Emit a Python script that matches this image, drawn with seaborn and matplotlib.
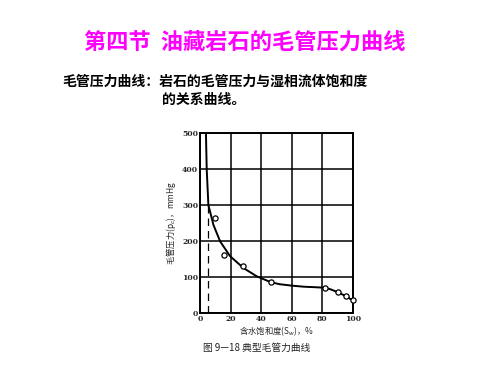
import matplotlib
matplotlib.use("Agg")
import matplotlib.pyplot as plt
import seaborn as sns

# ── Data ─────────────────────────────────────────────────────────────────────
point_sw = [9.7, 15.6, 28.3, 46.3, 82, 90.4, 95.7, 100]
point_pc = [264, 160, 131, 86, 70, 58, 48, 35]

curve_sw = [3.7, 4.2, 5.3, 8.6, 13, 19.5, 28.3, 37, 46, 52, 60, 68, 76, 82, 86, 90, 95, 100]
curve_pc = [500, 400, 300, 245, 199, 158, 125, 102, 86, 80, 76, 73, 71.5, 70, 65, 58, 48, 35]

swi_x = [5.3, 5.3]
swi_y = [0, 300]

x_ticks = [0, 20, 40, 60, 80, 100]
y_ticks = [0, 100, 200, 300, 400, 500]

TITLE = "第四节  油藏岩石的毛管压力曲线"
SUB_1 = "毛管压力曲线：岩石的毛管压力与湿相流体饱和度"
SUB_2 = "的关系曲线。"
CAPTION = "图 9—18 典型毛管力曲线"

sns.set_theme(style="white")
plt.rcParams["font.family"] = ["Noto Sans CJK SC", "DejaVu Sans"]

fig = plt.figure(figsize=(5, 3.75), dpi=100)
fig.patch.set_facecolor("white")

fig.text(245 / 500, 1 - 42 / 375, TITLE, ha="center", va="center",
         fontsize=16, fontweight="bold", color="#FF00FF")
fig.text(62 / 500, 1 - 82 / 375, SUB_1, ha="left", va="center",
         fontsize=10, fontweight="bold", color="black")
fig.text(162 / 500, 1 - 100 / 375, SUB_2, ha="left", va="center",
         fontsize=10, fontweight="bold", color="black")

ax = fig.add_axes([200.3 / 500, 1 - 313 / 375, 152.4 / 500, 180 / 375])
ax.set_facecolor("white")

sns.lineplot(x=curve_sw, y=curve_pc, ax=ax, color="black", linewidth=1.4,
             sort=False, estimator=None)
ax.plot(swi_x, swi_y, color="black", linewidth=0.9, linestyle=(0, (6, 4)))
sns.scatterplot(x=point_sw, y=point_pc, ax=ax, marker="o", s=14,
                facecolor="white", edgecolor="black", linewidth=0.9,
                zorder=5, clip_on=False)

ax.set_xlim(0, 100)
ax.set_ylim(0, 500)
ax.set_xticks(x_ticks)
ax.set_yticks(y_ticks)
ax.set_xticklabels([str(t) for t in x_ticks], fontsize=5.5,
                   family="DejaVu Serif", fontweight="bold")
ax.set_yticklabels([str(t) for t in y_ticks], fontsize=5.5,
                   family="DejaVu Serif", fontweight="bold")
ax.tick_params(axis="both", length=0, pad=1.5)
ax.grid(True, color="black", linewidth=1.1)
for sp in ax.spines.values():
    sp.set_color("black")
    sp.set_linewidth(1.4)

ax.set_xlabel("含水饱和度(S$_w$)，%", fontsize=6, labelpad=1)
ax.set_ylabel("毛管压力(p$_c$)，mmHg", fontsize=6, labelpad=3)

fig.text(257 / 500, 1 - 348 / 375, CAPTION, ha="center", va="center",
         fontsize=7, color="#222222")

fig.savefig("out.png", dpi=100, facecolor="white")
